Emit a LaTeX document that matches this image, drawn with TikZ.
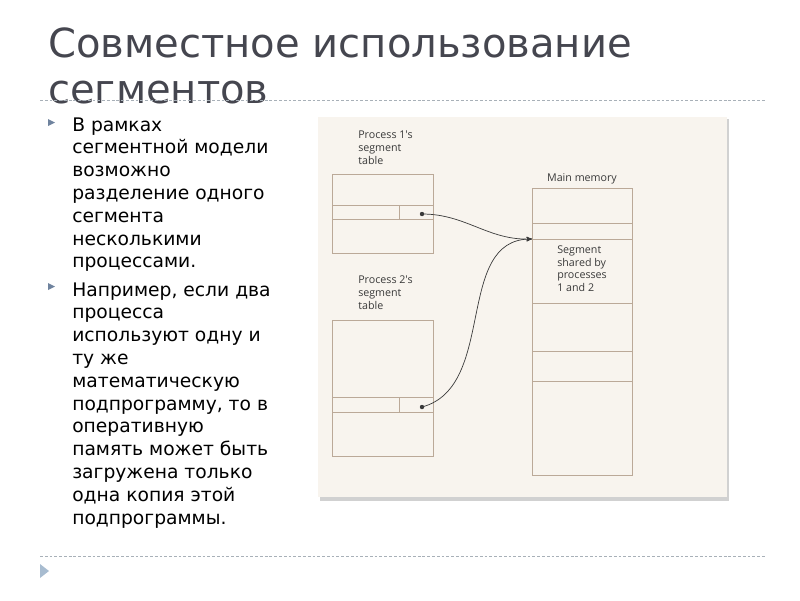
\documentclass[tikz,border=0pt]{standalone}
\usepackage{fontspec}
\setmainfont{DejaVu Sans}
\newfontfamily\diagfont{Open Sans}
\usetikzlibrary{arrows}
\usetikzlibrary{positioning}
\definecolor{titlegray}{HTML}{45464F}
\definecolor{rulegray}{HTML}{A8B0B8}
\definecolor{bulletblue}{HTML}{6F839E}
\definecolor{pagetri}{HTML}{A8BCD0}
\definecolor{paper}{HTML}{F8F4EE}
\definecolor{tan}{HTML}{BBA998}
\definecolor{inkgray}{HTML}{3A3A3A}
\tikzset{
  bodytext/.style={anchor=base west, align=left, inner sep=0, font=\fontsize{13.3}{16.2}\selectfont},
  figtext/.style={anchor=base west, align=left, inner sep=0, text=inkgray, font=\diagfont\fontsize{7.6}{8.9}\selectfont},
  tabline/.style={tan, line width=.6pt},
  link/.style={inkgray, line width=.5pt, ->, >=stealth'},
  bul/.style={fill=bulletblue, draw=none}
}
\begin{document}
\begin{tikzpicture}[x=0.025cm, y=-0.025cm]
\useasboundingbox (0,0) rectangle (800,600);
% title and rules (base anchor = last line)
\node[anchor=base west, align=left, inner sep=0, text=titlegray, font=\fontsize{28.5}{32.7}\selectfont] (title) at (48,103) {Совместное использование\\сегментов};
\draw[rulegray, line width=.5pt, dash pattern=on 2pt off 1.4pt] (40,100) -- (765,100);
\draw[rulegray, line width=.5pt, dash pattern=on 2pt off 1.4pt] (40,556) -- (765,556);
\fill[pagetri] (40,564) -- (49,571) -- (40,578) -- cycle;
% bullets
\foreach \y in {119,283} {
 \fill[bul] (48,\y) -- (55,\y+3.5) -- (48,\y+7) -- cycle;
}
\node[bodytext] (first) at (72,267.8) {В рамках\\сегментной модели\\возможно\\разделение одного\\сегмента\\несколькими\\процессами.};
\node[bodytext] (second) at (72,524) {Например, если два\\процесса\\используют одну и\\ту же\\математическую\\подпрограмму, то в\\оперативную\\память может быть\\загружена только\\одна копия этой\\подпрограммы.};
% picture panel
\fill[black!18] (320,119) rectangle (729,501);
\fill[paper] (318,117) rectangle (727,497);
\node[figtext] (p1label) at (358,164) {Process 1's\\segment\\table};
\node[figtext] (p2label) at (358,309) {Process 2's\\segment\\table};
\node[figtext, anchor=base] (memlabel) at (582,181) {Main memory};
\node[figtext] (shared) at (557,291.5) {Segment\\shared by\\processes\\1 and 2};
% segment tables
\draw[tabline] (332,174) rectangle (433,253);
\draw[tabline] (332,205) -- (433,205) (332,219) -- (433,219) (399,205) -- (399,219);
\draw[tabline] (332,320) rectangle (433,456);
\draw[tabline] (332,397) -- (433,397) (332,412) -- (433,412) (399,397) -- (399,412);
% main memory
\draw[tabline] (532,188) rectangle (632,475);
\foreach \y in {223,239,303,351,381} {
 \draw[tabline] (532,\y) --++(100,0);
}
\coordinate (p1dot) at (422,214);
\coordinate (p2dot) at (422,407);
\coordinate (memin) at (532,239);
\fill[inkgray] (p1dot) circle (2.2);
\fill[inkgray] (p2dot) circle (2.2);
\draw[link] (p1dot) to[out=0, in=182] (memin);
\draw[link] (p2dot) to[out=15, in=180] (memin);
\end{tikzpicture}
\end{document}
